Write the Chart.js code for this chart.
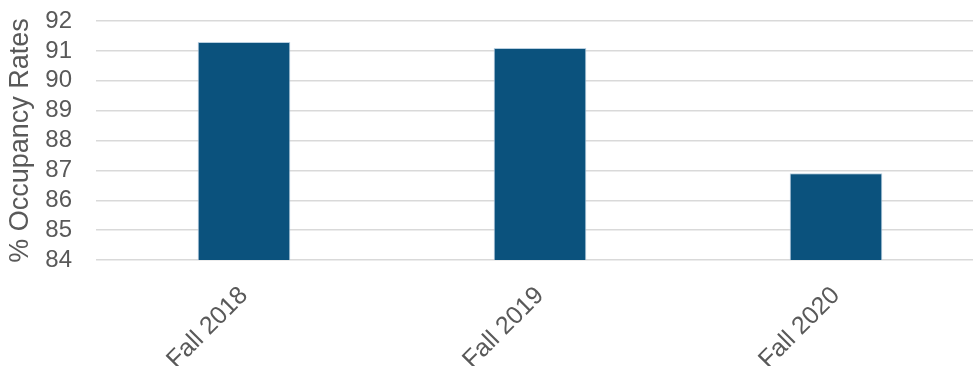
<!DOCTYPE html>
<html>
<head>
<meta charset="utf-8">
<script src="https://cdn.jsdelivr.net/npm/chart.js@4/dist/chart.umd.min.js"></script>
<style>
html,body{margin:0;padding:0;background:#fff;overflow:hidden;}
#wrap{width:973px;height:366px;overflow:hidden;}
</style>
</head>
<body>
<div id="wrap"><canvas id="c" width="984" height="366"></canvas></div>
<script>
const categories = ["Fall 2018", "Fall 2019", "Fall 2020"];
const occupancyRates = [91.3, 91.1, 86.9];
const yTitle = "% Occupancy Rates";

new Chart(document.getElementById('c'), {
  type: 'bar',
  data: {
    labels: categories,
    datasets: [{
      data: occupancyRates,
      backgroundColor: '#0b527d',
      borderColor: '#b9cfe0',
      borderWidth: 1,
      barPercentage: 0.313,
      categoryPercentage: 1.0
    }]
  },
  options: {
    responsive: false,
    animation: false,
    layout: { padding: { top: 21, right: 0, left: 0, bottom: 0 } },
    plugins: { legend: { display: false }, tooltip: { enabled: false } },
    scales: {
      x: {
        grid: { display: false },
        border: { display: false },
        ticks: {
          autoSkip: false,
          minRotation: 45, maxRotation: 45,
          color: '#595959',
          font: { family: 'Liberation Sans, Arial, sans-serif', size: 25 },
          padding: 13,
          labelOffset: 0
        },
        afterFit: (s) => { s.height = 106; }
      },
      y: {
        min: 84, max: 92,
        ticks: {
          autoSkip: false,
          stepSize: 1,
          color: '#595959',
          font: { family: 'Liberation Sans, Arial, sans-serif', size: 24 },
          padding: 24
        },
        grid: { color: '#d9d9d9', lineWidth: 1.5, drawTicks: false },
        border: { display: false },
        title: {
          display: true,
          text: yTitle,
          color: '#595959',
          font: { family: 'Liberation Sans, Arial, sans-serif', size: 27 },
          padding: { top: 4, bottom: 0 }
        },
        afterFit: (s) => { s.width = 96; s.paddingTop = 0; s.paddingBottom = 0; }
      }
    }
  }
});
</script>
</body>
</html>
